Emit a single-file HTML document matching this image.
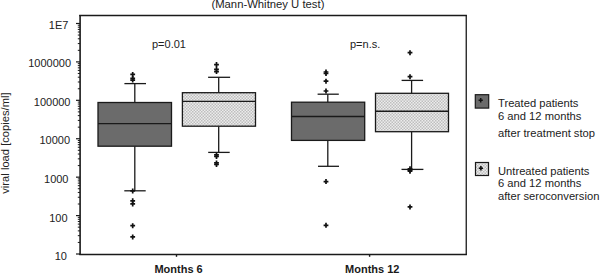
<!DOCTYPE html><html><head><meta charset="utf-8"><style>html,body{margin:0;padding:0;background:#fff;}svg{display:block;}text{font-family:"Liberation Sans",sans-serif;}</style></head><body>
<svg width="600" height="273" viewBox="0 0 600 273">
<defs><pattern id="dots" width="3" height="3" patternUnits="userSpaceOnUse"><rect width="3" height="3" fill="#ececec"/><rect width="1.5" height="1.5" fill="#bebebe"/><rect x="1.5" y="1.5" width="1.5" height="1.5" fill="#bebebe"/></pattern></defs>
<rect width="600" height="273" fill="#fff"/>
<text x="267.9" y="7.5" font-size="11.3" text-anchor="middle" fill="#222">(Mann-Whitney U test)</text>
<text transform="translate(9.3,143.05) rotate(-90)" font-size="11.2" text-anchor="middle" fill="#222">viral load [copies/ml]</text>
<path d="M79.2 15.5H466.9" stroke="#1a1a1a" stroke-width="1.3"/>
<path d="M80.1 14.9V255" stroke="#1a1a1a" stroke-width="1.6"/>
<path d="M79.3 254.4H466.9" stroke="#1a1a1a" stroke-width="1.45"/>
<path d="M466.25 14.9V254.9" stroke="#1a1a1a" stroke-width="1.3"/>
<line x1="76" y1="254.00" x2="80" y2="254.00" stroke="#1a1a1a" stroke-width="1.2"/>
<text x="66.9" y="259.80" font-size="11" text-anchor="end" fill="#222">10</text>
<line x1="77.8" y1="242.43" x2="80" y2="242.43" stroke="#1a1a1a" stroke-width="1"/>
<line x1="77.8" y1="235.67" x2="80" y2="235.67" stroke="#1a1a1a" stroke-width="1"/>
<line x1="77.8" y1="230.87" x2="80" y2="230.87" stroke="#1a1a1a" stroke-width="1"/>
<line x1="77.8" y1="227.15" x2="80" y2="227.15" stroke="#1a1a1a" stroke-width="1"/>
<line x1="77.8" y1="224.10" x2="80" y2="224.10" stroke="#1a1a1a" stroke-width="1"/>
<line x1="77.8" y1="221.53" x2="80" y2="221.53" stroke="#1a1a1a" stroke-width="1"/>
<line x1="77.8" y1="219.30" x2="80" y2="219.30" stroke="#1a1a1a" stroke-width="1"/>
<line x1="77.8" y1="217.34" x2="80" y2="217.34" stroke="#1a1a1a" stroke-width="1"/>
<line x1="76" y1="215.58" x2="80" y2="215.58" stroke="#1a1a1a" stroke-width="1.2"/>
<text x="67.5" y="221.58" font-size="11" text-anchor="end" fill="#222">100</text>
<line x1="77.8" y1="204.01" x2="80" y2="204.01" stroke="#1a1a1a" stroke-width="1"/>
<line x1="77.8" y1="197.25" x2="80" y2="197.25" stroke="#1a1a1a" stroke-width="1"/>
<line x1="77.8" y1="192.45" x2="80" y2="192.45" stroke="#1a1a1a" stroke-width="1"/>
<line x1="77.8" y1="188.73" x2="80" y2="188.73" stroke="#1a1a1a" stroke-width="1"/>
<line x1="77.8" y1="185.68" x2="80" y2="185.68" stroke="#1a1a1a" stroke-width="1"/>
<line x1="77.8" y1="183.11" x2="80" y2="183.11" stroke="#1a1a1a" stroke-width="1"/>
<line x1="77.8" y1="180.88" x2="80" y2="180.88" stroke="#1a1a1a" stroke-width="1"/>
<line x1="77.8" y1="178.92" x2="80" y2="178.92" stroke="#1a1a1a" stroke-width="1"/>
<line x1="76" y1="177.16" x2="80" y2="177.16" stroke="#1a1a1a" stroke-width="1.2"/>
<text x="68.5" y="182.96" font-size="11" text-anchor="end" fill="#222">1000</text>
<line x1="77.8" y1="165.59" x2="80" y2="165.59" stroke="#1a1a1a" stroke-width="1"/>
<line x1="77.8" y1="158.83" x2="80" y2="158.83" stroke="#1a1a1a" stroke-width="1"/>
<line x1="77.8" y1="154.03" x2="80" y2="154.03" stroke="#1a1a1a" stroke-width="1"/>
<line x1="77.8" y1="150.31" x2="80" y2="150.31" stroke="#1a1a1a" stroke-width="1"/>
<line x1="77.8" y1="147.26" x2="80" y2="147.26" stroke="#1a1a1a" stroke-width="1"/>
<line x1="77.8" y1="144.69" x2="80" y2="144.69" stroke="#1a1a1a" stroke-width="1"/>
<line x1="77.8" y1="142.46" x2="80" y2="142.46" stroke="#1a1a1a" stroke-width="1"/>
<line x1="77.8" y1="140.50" x2="80" y2="140.50" stroke="#1a1a1a" stroke-width="1"/>
<line x1="76" y1="138.74" x2="80" y2="138.74" stroke="#1a1a1a" stroke-width="1.2"/>
<text x="70" y="144.49" font-size="11" text-anchor="end" fill="#222">10000</text>
<line x1="77.8" y1="127.17" x2="80" y2="127.17" stroke="#1a1a1a" stroke-width="1"/>
<line x1="77.8" y1="120.41" x2="80" y2="120.41" stroke="#1a1a1a" stroke-width="1"/>
<line x1="77.8" y1="115.61" x2="80" y2="115.61" stroke="#1a1a1a" stroke-width="1"/>
<line x1="77.8" y1="111.89" x2="80" y2="111.89" stroke="#1a1a1a" stroke-width="1"/>
<line x1="77.8" y1="108.84" x2="80" y2="108.84" stroke="#1a1a1a" stroke-width="1"/>
<line x1="77.8" y1="106.27" x2="80" y2="106.27" stroke="#1a1a1a" stroke-width="1"/>
<line x1="77.8" y1="104.04" x2="80" y2="104.04" stroke="#1a1a1a" stroke-width="1"/>
<line x1="77.8" y1="102.08" x2="80" y2="102.08" stroke="#1a1a1a" stroke-width="1"/>
<line x1="76" y1="100.32" x2="80" y2="100.32" stroke="#1a1a1a" stroke-width="1.2"/>
<text x="70.5" y="106.22" font-size="11" text-anchor="end" fill="#222">100000</text>
<line x1="77.8" y1="88.75" x2="80" y2="88.75" stroke="#1a1a1a" stroke-width="1"/>
<line x1="77.8" y1="81.99" x2="80" y2="81.99" stroke="#1a1a1a" stroke-width="1"/>
<line x1="77.8" y1="77.19" x2="80" y2="77.19" stroke="#1a1a1a" stroke-width="1"/>
<line x1="77.8" y1="73.47" x2="80" y2="73.47" stroke="#1a1a1a" stroke-width="1"/>
<line x1="77.8" y1="70.42" x2="80" y2="70.42" stroke="#1a1a1a" stroke-width="1"/>
<line x1="77.8" y1="67.85" x2="80" y2="67.85" stroke="#1a1a1a" stroke-width="1"/>
<line x1="77.8" y1="65.62" x2="80" y2="65.62" stroke="#1a1a1a" stroke-width="1"/>
<line x1="77.8" y1="63.66" x2="80" y2="63.66" stroke="#1a1a1a" stroke-width="1"/>
<line x1="76" y1="61.90" x2="80" y2="61.90" stroke="#1a1a1a" stroke-width="1.2"/>
<text x="71" y="67.20" font-size="11" text-anchor="end" fill="#222">1000000</text>
<line x1="77.8" y1="50.33" x2="80" y2="50.33" stroke="#1a1a1a" stroke-width="1"/>
<line x1="77.8" y1="43.57" x2="80" y2="43.57" stroke="#1a1a1a" stroke-width="1"/>
<line x1="77.8" y1="38.77" x2="80" y2="38.77" stroke="#1a1a1a" stroke-width="1"/>
<line x1="77.8" y1="35.05" x2="80" y2="35.05" stroke="#1a1a1a" stroke-width="1"/>
<line x1="77.8" y1="32.00" x2="80" y2="32.00" stroke="#1a1a1a" stroke-width="1"/>
<line x1="77.8" y1="29.43" x2="80" y2="29.43" stroke="#1a1a1a" stroke-width="1"/>
<line x1="77.8" y1="27.20" x2="80" y2="27.20" stroke="#1a1a1a" stroke-width="1"/>
<line x1="77.8" y1="25.24" x2="80" y2="25.24" stroke="#1a1a1a" stroke-width="1"/>
<line x1="76" y1="23.48" x2="80" y2="23.48" stroke="#1a1a1a" stroke-width="1.2"/>
<text x="68.4" y="29.28" font-size="11" text-anchor="end" fill="#222">1E7</text>
<line x1="176.5" y1="254" x2="176.5" y2="256.8" stroke="#1a1a1a" stroke-width="1.4"/>
<line x1="369.6" y1="254" x2="369.6" y2="256.8" stroke="#1a1a1a" stroke-width="1.4"/>
<text x="152" y="48" font-size="11" fill="#222">p=0.01</text>
<text x="350" y="48" font-size="11" fill="#222">p=n.s.</text>
<text x="178.6" y="272.5" font-size="11" font-weight="bold" text-anchor="middle" fill="#1a1a1a">Months 6</text>
<text x="372.3" y="272.5" font-size="11" font-weight="bold" text-anchor="middle" fill="#1a1a1a">Months 12</text>
<line x1="134.8" y1="83.6" x2="134.8" y2="102.5" stroke="#1a1a1a" stroke-width="1.3"/>
<line x1="134.8" y1="146.2" x2="134.8" y2="190.8" stroke="#1a1a1a" stroke-width="1.3"/>
<line x1="124.4" y1="83.6" x2="146" y2="83.6" stroke="#1a1a1a" stroke-width="1.3"/>
<line x1="124.3" y1="190.8" x2="145.7" y2="190.8" stroke="#1a1a1a" stroke-width="1.3"/>
<rect x="98" y="102.5" width="73.50" height="43.70" fill="#6b6b6b" stroke="#1a1a1a" stroke-width="1.3"/>
<line x1="98" y1="123.6" x2="171.5" y2="123.6" stroke="#1a1a1a" stroke-width="1.4"/>
<path d="M130.30 74.40H135.10M132.70 71.90V76.90" stroke="#111" stroke-width="1.7" fill="none"/>
<path d="M130.30 78.30H135.10M132.70 75.80V80.80" stroke="#111" stroke-width="1.7" fill="none"/>
<path d="M130.30 80.10H135.10M132.70 77.60V82.60" stroke="#111" stroke-width="1.7" fill="none"/>
<path d="M130.30 190.90H135.10M132.70 188.40V193.40" stroke="#111" stroke-width="1.7" fill="none"/>
<path d="M130.30 200.80H135.10M132.70 198.30V203.30" stroke="#111" stroke-width="1.7" fill="none"/>
<path d="M130.30 203.90H135.10M132.70 201.40V206.40" stroke="#111" stroke-width="1.7" fill="none"/>
<path d="M130.30 225.70H135.10M132.70 223.20V228.20" stroke="#111" stroke-width="1.7" fill="none"/>
<path d="M130.30 236.90H135.10M132.70 234.40V239.40" stroke="#111" stroke-width="1.7" fill="none"/>
<line x1="218.7" y1="77.3" x2="218.7" y2="92.7" stroke="#1a1a1a" stroke-width="1.3"/>
<line x1="218.7" y1="126.2" x2="218.7" y2="152.4" stroke="#1a1a1a" stroke-width="1.3"/>
<line x1="208.1" y1="77.3" x2="230.1" y2="77.3" stroke="#1a1a1a" stroke-width="1.3"/>
<line x1="208.2" y1="152.4" x2="229.7" y2="152.4" stroke="#1a1a1a" stroke-width="1.3"/>
<rect x="182.4" y="92.7" width="73.10" height="33.50" fill="url(#dots)" stroke="#1a1a1a" stroke-width="1.3"/>
<line x1="182.4" y1="101.4" x2="255.5" y2="101.4" stroke="#1a1a1a" stroke-width="1.4"/>
<path d="M214.10 64.60H218.90M216.50 62.10V67.10" stroke="#111" stroke-width="1.7" fill="none"/>
<path d="M214.10 69.30H218.90M216.50 66.80V71.80" stroke="#111" stroke-width="1.7" fill="none"/>
<path d="M214.10 71.60H218.90M216.50 69.10V74.10" stroke="#111" stroke-width="1.7" fill="none"/>
<path d="M214.10 154.90H218.90M216.50 152.40V157.40" stroke="#111" stroke-width="1.7" fill="none"/>
<path d="M214.10 156.50H218.90M216.50 154.00V159.00" stroke="#111" stroke-width="1.7" fill="none"/>
<path d="M214.10 162.90H218.90M216.50 160.40V165.40" stroke="#111" stroke-width="1.7" fill="none"/>
<path d="M214.10 164.50H218.90M216.50 162.00V167.00" stroke="#111" stroke-width="1.7" fill="none"/>
<line x1="327.8" y1="94.2" x2="327.8" y2="102.2" stroke="#1a1a1a" stroke-width="1.3"/>
<line x1="327.8" y1="140.4" x2="327.8" y2="166.3" stroke="#1a1a1a" stroke-width="1.3"/>
<line x1="317.6" y1="94.2" x2="338.8" y2="94.2" stroke="#1a1a1a" stroke-width="1.3"/>
<line x1="318" y1="166.3" x2="339" y2="166.3" stroke="#1a1a1a" stroke-width="1.3"/>
<rect x="291.5" y="102.2" width="73.20" height="38.20" fill="#6b6b6b" stroke="#1a1a1a" stroke-width="1.3"/>
<line x1="291.5" y1="116.5" x2="364.7" y2="116.5" stroke="#1a1a1a" stroke-width="1.4"/>
<path d="M323.60 72.00H328.40M326.00 69.50V74.50" stroke="#111" stroke-width="1.7" fill="none"/>
<path d="M323.60 73.50H328.40M326.00 71.00V76.00" stroke="#111" stroke-width="1.7" fill="none"/>
<path d="M323.60 81.20H328.40M326.00 78.70V83.70" stroke="#111" stroke-width="1.7" fill="none"/>
<path d="M323.60 91.00H328.40M326.00 88.50V93.50" stroke="#111" stroke-width="1.7" fill="none"/>
<path d="M323.60 181.60H328.40M326.00 179.10V184.10" stroke="#111" stroke-width="1.7" fill="none"/>
<path d="M323.60 225.30H328.40M326.00 222.80V227.80" stroke="#111" stroke-width="1.7" fill="none"/>
<line x1="411.6" y1="80.4" x2="411.6" y2="93.3" stroke="#1a1a1a" stroke-width="1.3"/>
<line x1="411.6" y1="131.7" x2="411.6" y2="169.4" stroke="#1a1a1a" stroke-width="1.3"/>
<line x1="401.6" y1="80.4" x2="423.1" y2="80.4" stroke="#1a1a1a" stroke-width="1.3"/>
<line x1="401.5" y1="169.4" x2="423.4" y2="169.4" stroke="#1a1a1a" stroke-width="1.3"/>
<rect x="375.5" y="93.3" width="73.00" height="38.40" fill="url(#dots)" stroke="#1a1a1a" stroke-width="1.3"/>
<line x1="375.5" y1="111.3" x2="448.5" y2="111.3" stroke="#1a1a1a" stroke-width="1.4"/>
<path d="M407.60 52.70H412.40M410.00 50.20V55.20" stroke="#111" stroke-width="1.7" fill="none"/>
<path d="M407.60 76.70H412.40M410.00 74.20V79.20" stroke="#111" stroke-width="1.7" fill="none"/>
<path d="M407.60 168.80H412.40M410.00 166.30V171.30" stroke="#111" stroke-width="1.7" fill="none"/>
<path d="M407.60 170.20H412.40M410.00 167.70V172.70" stroke="#111" stroke-width="1.7" fill="none"/>
<path d="M407.60 171.20H412.40M410.00 168.70V173.70" stroke="#111" stroke-width="1.7" fill="none"/>
<path d="M407.60 206.90H412.40M410.00 204.40V209.40" stroke="#111" stroke-width="1.7" fill="none"/>
<rect x="475.3" y="94.7" width="13.4" height="13.4" fill="#6b6b6b" stroke="#1a1a1a" stroke-width="1.2"/>
<path d="M478.60 100.20H482.80M480.70 98.00V102.40" stroke="#111" stroke-width="1.5" fill="none"/>
<rect x="475.5" y="162.5" width="13" height="13" fill="url(#dots)" stroke="#1a1a1a" stroke-width="1.2"/>
<path d="M478.80 168.20H483.00M480.90 166.00V170.40" stroke="#111" stroke-width="1.6" fill="none"/>
<text x="498" y="106.7" font-size="11.2" fill="#222">Treated patients</text>
<text x="498" y="119.5" font-size="11.2" fill="#222">6 and 12 months</text>
<text x="498" y="137" font-size="11.2" fill="#222">after treatment stop</text>
<text x="498" y="174.5" font-size="11.2" fill="#222">Untreated patients</text>
<text x="498" y="187.2" font-size="11.2" fill="#222">6 and 12 months</text>
<text x="498" y="200" font-size="11.2" fill="#222">after seroconversion</text>
</svg></body></html>
